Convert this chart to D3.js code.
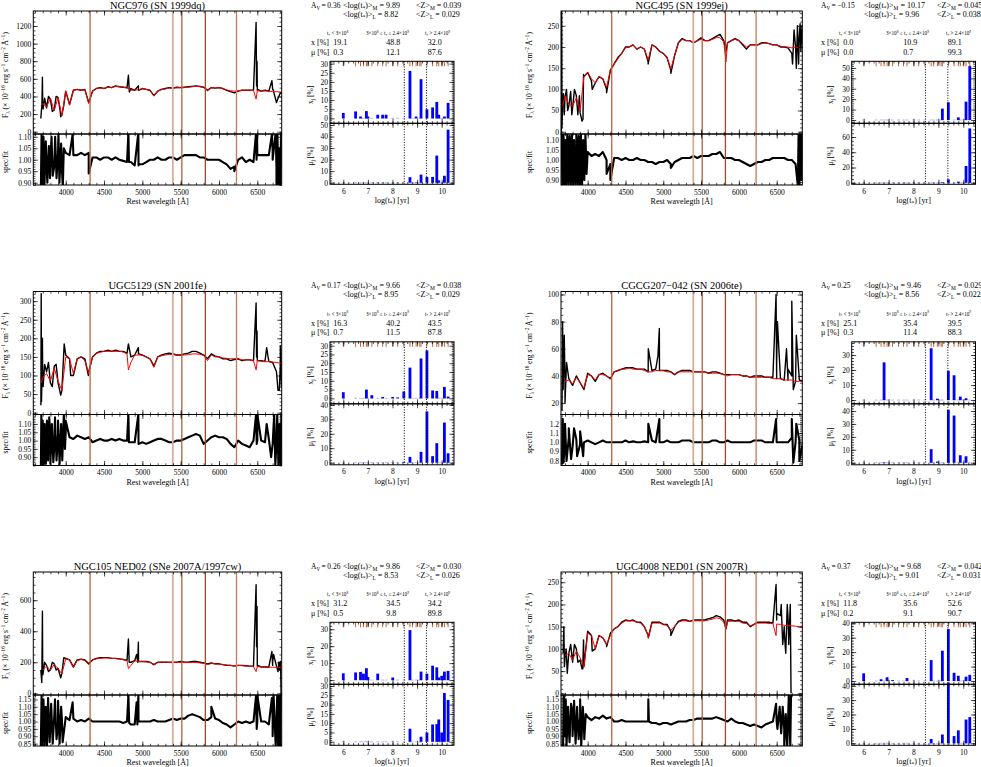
<!DOCTYPE html>
<html><head><meta charset="utf-8">
<script src="https://cdn.jsdelivr.net/npm/d3@7"></script>
<style>body{margin:0;background:#fff}svg{display:block}</style>
</head><body><svg id="c" width="981" height="767"></svg>
<script>
// ---------------- DATA ----------------
const waveGrid = [3650,3700,3750,3800,3850,3900,3950,4000,4050,4100,4150,4200,4250,4300,4350,4400,4450,4500,4550,4600,4650,4700,4750,4800,4850,4900,4950,5000,5050,5100,5150,5200,5250,5300,5350,5400,5450,5500,5550,5600,5650,5700,5750,5800,5850,5900,5950,6000,6050,6100,6150,6200,6250,6300,6350,6400,6450,6500,6550,6600,6650,6700,6750,6800,6850];
const skyLines = [4318,5397,5515,5822,6228];
const skyColors = ["#b8643e","#d6ae96","#b0603a","#9c4c2c","#c47c58"];
const ageLog = [6.00,6.50,6.70,6.82,6.94,7.00,7.16,7.40,7.60,7.74,8.01,8.21,8.46,8.71,8.81,8.96,9.11,9.16,9.40,9.63,9.80,9.88,10.00,10.11,10.26];
const ageCuts = [8.48,9.38];

const titles = ["NGC976 (SN 1999dq)","NGC495 (SN 1999ej)","UGC5129 (SN 2001fe)","CGCG207\u2212042 (SN 2006te)","NGC105 NED02 (SNe 2007A/1997cw)","UGC4008 NED01 (SN 2007R)"];
const avValues = [0.36,-0.15,0.17,0.25,0.26,0.37];
const logtM = [9.89,10.17,9.66,9.46,9.86,9.68];
const logtL = [8.82,9.96,8.95,8.56,8.53,9.01];
const zM = [0.039,0.045,0.038,0.029,0.030,0.042];
const zL = [0.029,0.038,0.029,0.022,0.026,0.031];
const xBins = [[19.1,48.8,32.0],[0.0,10.9,89.1],[16.3,40.2,43.5],[25.1,35.4,39.5],[31.2,34.5,34.2],[11.8,35.6,52.6]];
const muBins = [[0.3,12.1,87.6],[0.0,0.7,99.3],[0.7,11.5,87.8],[0.3,11.4,88.3],[0.5,9.8,89.8],[0.2,9.1,90.7]];

// NGC976
const obsNGC976 = [null,300,270,370,250,390,190,460,310,470,480,470,480,330,460,490,500,490,510,500,520,510,505,500,490,470,470,490,480,470,410,460,480,490,500,495,505,500,505,510,515,520,515,505,470,500,495,500,490,470,455,440,460,470,470,470,475,470,460,470,460,480,330,440,440];
const obsSpkNGC976 = [[3675,150],[3690,320],[3696,620],[3705,260],[3725,380],[3775,400],[3825,230],[3875,400],[3925,250],[3935,170],[3975,300],[4818,640],[4830,450],[4948,520],[6484,1240],[6490,520],[6496,800],[6505,480],[6690,580],[6705,480],[6770,380]];
const fitNGC976 = [null,320,280,380,240,390,180,460,300,470,480,470,475,320,460,490,495,490,505,500,515,510,505,495,470,475,475,490,480,470,405,460,480,485,495,495,500,500,500,505,510,515,510,505,465,500,495,500,490,475,465,460,465,470,470,470,470,465,460,465,460,455,455,450,445];
const fitSpkNGC976 = [[3680,300],[6484,370]];
const resNGC976 = [null,0.95,0.98,1.0,0.97,1.03,0.96,1.03,1.02,1.02,1.02,1.03,1.02,1.03,1.01,1.01,1.0,1.01,1.01,1.0,1.01,1.0,0.995,0.99,0.99,0.975,0.975,0.98,0.99,1.0,1.0,1.01,1.0,1.0,1.01,1.01,1.0,1.01,1.02,1.02,1.02,1.02,1.01,1.01,1.0,1.0,1.0,1.0,0.99,0.98,0.96,0.97,1.0,1.01,0.99,1.0,0.99,1.02,1.02,1.02,1.02,1.04,0.96,1.0,1.0];
const resSpkNGC976 = [[3675,0.85],[3685,1.12],[3692,0.86],[3710,1.1],[3722,0.88],[3740,1.08],[3760,0.9],[3780,1.06],[3795,0.92],[3815,1.1],[3830,0.93],[3862,1.1],[3880,0.92],[3905,1.12],[3918,0.9],[3940,1.07],[3962,0.88],[3975,1.05],[4090,1.11],[4300,0.94],[4818,1.12],[4825,0.99],[4948,1.12],[4955,0.98],[6200,0.95],[6484,1.12],[6490,1.0],[6496,1.12],[6690,1.11],[6700,1.0],[6740,1.12],[6750,0.88],[6762,1.12],[6775,0.88],[6790,1.05],[6800,0.88],[6812,1.12]];
const xjNGC976 = [3.0,3.8,1.0,0,4.0,1.0,0,2.0,2.0,2.0,0,0,0,26.0,0,1.0,0,21.5,5.0,6.0,9.0,2.0,0,1.0,8.5];
const mujNGC976 = [0,0,0,0,0,0,0,0,0,0,0,0,0,4.8,0,0.3,0,7.0,5.0,5.0,23.5,2.0,0,6.0,46.0];

// NGC495
const obsNGC495 = [null,80,60,55,85,45,130,140,120,115,130,125,100,145,160,175,185,200,200,205,195,200,195,165,205,200,190,185,175,145,180,210,220,215,215,210,215,222,215,215,220,225,230,215,210,215,220,215,205,195,205,205,205,210,210,208,205,205,200,200,198,185,200,225,200];
const obsSpkNGC495 = [[3652,-10],[3656,290],[3660,10],[3668,70],[3680,90],[3690,40],[3720,100],[3735,50],[3775,95],[3790,40],[3825,100],[3870,40],[3890,85],[3925,25],[3938,30],[3945,135],[4060,100],[4250,92],[4800,160],[5100,138],[5830,190],[6710,160],[6730,240],[6760,150],[6775,250],[6790,160],[6810,255],[6820,190],[6835,250]];
const fitNGC495 = [null,85,65,60,80,50,130,140,125,115,130,125,105,145,160,172,185,198,200,205,195,200,195,170,205,200,190,185,175,148,180,210,218,215,215,210,215,218,215,215,218,222,222,212,210,215,218,215,208,200,205,205,205,208,210,208,205,205,202,200,200,198,200,198,200];
const fitSpkNGC495 = [[3670,60],[5830,165]];
const resNGC495 = [null,1.0,0.98,1.02,0.97,1.05,1.02,1.04,1.02,1.03,1.02,1.04,1.0,0.98,1.01,1.01,1.0,1.01,1.0,1.0,1.01,1.0,1.0,0.99,0.99,0.98,0.99,0.99,1.0,0.98,0.99,1.0,1.01,1.01,1.01,1.02,1.01,1.02,1.02,1.02,1.03,1.03,1.04,1.01,1.01,1.01,1.0,1.0,0.99,0.98,0.97,0.98,0.99,0.99,1.0,1.0,1.01,1.01,1.01,1.01,1.0,1.0,0.98,1.02,1.0];
const resSpkNGC495 = [[3656,1.13],[3665,0.87],[3680,1.13],[3690,0.87],[3705,1.1],[3715,0.87],[3730,1.13],[3745,0.88],[3760,1.12],[3775,0.87],[3790,1.13],[3805,0.87],[3820,1.1],[3835,0.88],[3850,1.13],[3865,0.87],[3880,1.12],[3895,0.87],[3910,1.13],[3925,0.87],[3940,1.1],[3955,0.9],[3970,1.13],[3985,0.93],[4250,0.93],[4300,0.9],[5100,0.96],[6780,0.87],[6790,1.13],[6800,0.87],[6815,1.13],[6825,0.9],[6835,1.13]];
const xjNGC495 = [0,0,0,0,0,0,0,0,0,0,0,0,0,0,0,0,0,10.9,17.0,0,2.5,0,0,17.6,52.0];
const mujNGC495 = [0,0,0,0,0,0,0,0,0,0,0,0,0,0,0,0,0,0.7,4.5,0,1.5,0,0,22.0,71.3];

// UGC5129
const obsUGC5129 = [null,90,110,80,125,80,60,155,145,100,145,150,145,110,150,160,165,165,168,165,168,165,165,160,150,155,158,155,150,145,125,150,155,158,160,158,155,155,158,160,165,165,160,155,145,158,152,150,145,145,140,143,145,140,142,142,140,140,140,138,138,135,110,130,130];
const obsSpkUGC5129 = [[3676,20],[3680,320],[3684,30],[3690,100],[3696,200],[3705,70],[3725,130],[3775,135],[3825,70],[3875,130],[3935,47],[3980,185],[4065,100],[4296,100],[4818,185],[4948,175],[6484,295],[6490,150],[6496,220],[6622,175],[6640,150],[6770,60],[6787,60],[6800,180],[6815,70],[6830,170]];
const fitUGC5129 = [null,95,105,85,120,85,60,150,145,105,145,150,140,105,150,160,162,165,165,165,165,165,163,158,135,155,155,155,150,145,122,150,153,155,157,156,155,155,155,156,158,158,157,154,140,155,150,150,147,146,145,145,145,142,142,142,140,140,138,137,137,136,135,133,132];
const fitSpkUGC5129 = [[3680,80],[4818,115],[6484,115]];
const resUGC5129 = [null,1.0,0.96,1.02,0.95,1.04,0.97,1.05,1.02,1.01,1.03,1.02,1.01,1.02,0.99,1.0,1.01,1.0,1.0,1.01,1.0,1.01,1.0,1.0,0.99,0.99,0.98,0.99,0.98,0.99,1.0,1.01,1.01,1.0,0.99,0.99,1.0,1.0,1.01,1.02,1.03,1.04,1.03,0.98,1.0,1.02,1.03,1.02,1.02,1.01,0.98,0.96,1.0,0.98,0.97,0.96,1.0,1.0,1.0,0.99,1.01,0.98,1.0,0.95,1.0];
const resSpkUGC5129 = [[3676,0.85],[3682,1.16],[3690,0.85],[3700,1.12],[3712,0.85],[3725,1.1],[3740,0.86],[3755,1.12],[3770,0.88],[3785,1.14],[3800,0.86],[3820,1.1],[3838,0.87],[3860,1.14],[3880,0.88],[3900,1.12],[3920,0.86],[3940,1.1],[3955,0.88],[3975,1.16],[3990,0.95],[4000,1.12],[4818,1.16],[4825,0.99],[4948,1.16],[4955,0.98],[6484,1.16],[6492,0.98],[6500,1.16],[6622,1.1],[6680,0.9],[6720,1.16],[6735,0.85],[6760,1.16],[6775,0.85],[6790,1.1],[6805,0.85],[6815,1.16]];
const xjUGC5129 = [3.5,0,0,0,5.0,0,1.8,0,0.8,0,0.8,0.5,3.9,17.5,0,0,0,22.7,27.3,4.5,4.2,0,0,6.5,1.0];
const mujUGC5129 = [0,0,0,0,0,0,0,0,0,0,0,0,0.5,4.0,0,0,0,7.5,35.5,4.5,13.5,0,0,27.8,6.5];

// CGCG207-042
const obsCGCG207 = [null,35,38,33,40,35,30,42,40,36,41,42,40,38,43,44,45,46,46,46,45,45,45,43,44,45,44,44,44,43,41,43,44,44,44,43,43,43,43,42,43,43,42,41,41,41,41,41,40,40,39,40,40,40,39,39,39,38,38,37,37,40,36,37,36];
const obsSpkCGCG207 = [[3660,15],[3668,80],[3675,30],[3690,70],[3700,20],[3720,50],[4802,60],[4930,55],[4948,75],[6492,100],[6500,50],[6510,80],[6630,60],[6650,45],[6700,95],[6720,30],[6760,70]];
const fitCGCG207 = [null,36,37,34,39,35,31,41,40,37,41,41,40,38,43,44,45,45,46,45,45,45,44,43,43,44,44,44,43,43,41,43,43,43,43,43,43,43,43,42,42,42,42,41,40,41,41,41,40,40,39,39,39,39,39,39,38,38,38,37,37,37,36,36,36];
const fitSpkCGCG207 = [];
const resCGCG207 = [null,1.0,1.05,0.95,1.03,0.98,1.0,1.02,1.0,0.98,1.0,1.02,1.0,1.0,1.0,1.0,1.0,1.02,1.0,1.01,1.0,1.0,1.01,1.0,1.02,1.0,1.0,1.0,1.02,1.0,1.0,1.0,1.02,1.02,1.02,1.0,1.0,1.0,1.0,1.0,1.02,1.02,1.0,1.0,1.02,1.0,1.0,1.0,1.0,1.0,1.0,1.02,1.02,1.02,1.0,1.0,1.0,1.0,1.0,1.0,1.0,1.05,1.0,1.02,1.0];
const resSpkCGCG207 = [[3660,0.76],[3670,1.25],[3680,0.78],[3700,1.2],[3720,0.8],[3750,1.15],[3780,0.82],[3820,1.15],[3860,0.85],[3900,1.12],[3940,0.85],[4802,1.2],[4948,1.25],[6492,1.25],[6700,1.25],[6720,0.78],[6760,1.2],[6800,0.8]];
const xjCGCG207 = [0,0,0,25.1,0,0,0,0,0,0,0,0,0,34.5,0,0.9,0,0,19.5,16.5,0,2.3,0,1.2,0];
const mujCGCG207 = [0,0,0,0.3,0,0,0,0,0,0,0,0,0,10.5,0,0.9,0,0,41.0,36.5,0,5.8,0,5.0,0];

// NGC105
const obsNGC105 = [null,140,180,150,190,160,130,225,215,170,215,220,215,190,215,225,230,230,230,225,225,222,218,212,200,210,205,205,205,200,185,200,200,200,200,200,200,205,200,200,205,205,200,195,190,195,190,190,185,180,180,175,180,180,178,175,175,175,170,170,170,180,175,160,null];
const obsSpkNGC105 = [[3675,150],[3688,70],[3696,530],[3702,120],[3725,200],[3775,140],[3825,200],[3875,150],[3935,100],[3975,230],[4818,350],[4828,200],[4925,250],[4940,200],[4948,330],[4958,205],[6484,700],[6490,300],[6496,560],[6505,180],[6690,270],[6700,200],[6712,250],[6770,140],[6780,200],[6790,150],[6800,205],[6805,140],[6810,0]];
const fitNGC105 = [null,150,175,150,185,160,125,222,215,165,212,218,212,185,215,222,225,228,228,225,224,220,218,210,180,210,205,205,203,200,182,198,200,200,198,198,198,200,198,198,198,198,196,194,185,192,190,188,185,182,180,178,180,178,176,175,173,172,170,170,168,168,167,166,165];
const fitSpkNGC105 = [[4818,160],[6484,140]];
const resNGC105 = [null,0.98,1.02,0.97,1.03,0.98,1.02,1.03,1.01,1.02,1.0,1.01,1.0,1.02,1.0,1.0,1.0,1.0,1.0,1.0,1.0,1.0,0.99,1.0,0.98,0.98,1.0,1.0,1.0,1.0,1.01,1.0,1.0,1.0,1.01,1.02,1.01,1.02,1.02,1.04,1.05,1.04,1.03,1.01,1.01,1.03,1.02,1.01,0.99,0.98,0.96,0.98,1.0,0.99,1.0,0.99,1.0,1.0,1.0,1.0,0.98,1.02,1.0,1.0,null];
const resSpkNGC105 = [[3675,0.83],[3685,1.18],[3695,0.83],[3710,1.15],[3725,0.84],[3740,1.1],[3755,0.83],[3770,1.16],[3790,0.86],[3810,1.12],[3830,0.85],[3860,1.15],[3880,0.88],[3900,1.14],[3920,0.85],[3940,1.1],[3960,0.86],[4090,1.13],[4818,1.18],[4828,0.99],[4925,1.13],[4935,0.98],[4948,1.18],[4958,1.0],[5900,1.1],[6484,1.18],[6492,0.95],[6500,1.18],[6690,1.16],[6700,0.9],[6712,1.18],[6740,0.83],[6760,1.18],[6772,0.83],[6785,1.18],[6795,0.83],[6805,1.18]];
const xjNGC105 = [4.0,4.5,4.8,3.8,7.0,1.8,0,3.8,0,0,1.5,0,0,29.5,0,0,0,5.0,3.8,8.5,7.5,1.5,2.5,5.0,5.4];
const mujNGC105 = [0,0,0,0,0,0,0,0,0,0,0,0,0,7.0,0,0,0,2.7,5.0,9.3,9.5,12.0,5.0,26.2,22.5];

// UGC4008
const obsUGC4008 = [null,80,90,70,100,75,60,140,130,100,130,125,110,135,145,150,160,165,163,165,160,160,150,130,160,160,160,155,155,140,150,162,165,165,162,165,165,165,165,168,170,175,172,165,165,165,163,165,160,160,150,155,160,160,160,160,158,165,175,150,170,null,null,null,null];
const obsSpkUGC4008 = [[3675,90],[3685,150],[3692,60],[3715,100],[3730,45],[3775,110],[3825,110],[3870,70],[3925,55],[3935,55],[3945,120],[4060,95],[4250,105],[4802,125],[5100,130],[5830,145],[6492,245],[6500,180],[6560,200],[6580,110],[6600,140],[6620,90],[6640,200],[6660,110],[6680,200],[6690,0]];
const fitUGC4008 = [null,85,90,75,95,80,60,135,130,100,130,125,110,130,145,150,158,163,163,163,160,158,150,130,158,158,158,155,153,142,150,160,163,163,162,163,163,163,163,165,167,170,168,160,162,162,162,162,158,157,152,155,158,158,158,157,157,156,155,153,152,152,151,150,150];
const fitSpkUGC4008 = [[4802,125],[5830,145],[6492,130]];
const resUGC4008 = [null,1.0,0.95,1.05,0.97,1.03,0.98,1.03,1.01,1.03,1.02,1.04,1.02,1.03,1.0,1.0,1.01,1.0,1.0,1.0,1.0,1.0,1.0,1.0,0.99,0.99,0.98,0.99,0.99,0.98,0.99,1.0,1.0,1.0,1.01,1.01,1.02,1.02,1.02,1.02,1.02,1.03,1.02,1.01,1.0,1.02,1.0,0.99,0.99,0.98,0.97,0.98,0.97,0.96,0.98,0.99,1.0,1.0,1.0,0.95,1.0,null,null,null,null];
const resSpkUGC4008 = [[3675,0.83],[3685,1.18],[3695,0.9],[3710,1.15],[3720,0.83],[3740,1.1],[3760,0.86],[3780,1.12],[3800,0.9],[3820,1.14],[3840,0.85],[3860,1.1],[3880,0.88],[3900,1.15],[3915,0.83],[3935,1.1],[3955,0.88],[3975,1.05],[4802,1.15],[4810,1.0],[6492,1.12],[6510,0.95],[6540,1.1],[6560,0.92],[6580,1.1],[6600,0.83],[6620,1.05],[6640,0.83],[6660,1.18],[6680,0.83],[6690,1.18]];
const xjUGC4008 = [5.3,0,1.2,0,2.6,0,0.6,0,0,2.1,0,0,0,14.5,0,0,0,21.0,36.0,5.7,3.6,0,0,3.0,4.3];
const mujUGC4008 = [0,0,0,0,0,0,0,0,0,0,0,0,0,3.0,0,0,0,6.1,42.0,5.0,9.0,0,0,16.5,18.2];

// ---------------- LAYOUT ----------------
const FONT = "'Liberation Serif','Times New Roman',serif";
const rowOff = [0, 280.5, 561];
const cols = [
  {spec:[33.3,281.7], wdom:[3577,6818], bar:[330,454], adom:[5.46,10.5], ylab:8, barYlab:313,
   t:{av:311, lg:343, z:416, c:[333.3,386.3,427.7], h:[327,366,425]}},
  {spec:[561,802.3], wdom:[3647,6839], bar:[851.7,975.5], adom:[5.52,10.49], ylab:532, barYlab:833,
   t:{av:821, lg:864, z:937, c:[843.3,903.3,947.7], h:[839,886,946]}}
];
const SP = {top:11, mid:134, bot:185};
const BP = {top:61.3, mid:123.3, bot:184.3};

const galaxies = [
  {obs:obsNGC976, obsS:obsSpkNGC976, fit:fitNGC976, fitS:fitSpkNGC976, res:resNGC976, resS:resSpkNGC976, xj:xjNGC976, mu:mujNGC976,
   fd:[-26,1370], ft:[0,200,400,600,800,1000,1200], fm:50, rd:[0.89,1.112], rt:[0.90,0.95,1.00,1.05,1.10], rm:0.01,
   xd:[-2.7,31.3], xt:[0,5,10,15,20,25,30], xm:1, md:[-1.4,51.5], mt:[0,10,20,30,40,50], mm:2},
  {obs:obsNGC495, obsS:obsSpkNGC495, fit:fitNGC495, fitS:fitSpkNGC495, res:resNGC495, resS:resSpkNGC495, xj:xjNGC495, mu:mujNGC495,
   fd:[-5.4,285], ft:[0,50,100,150,200,250], fm:10, rd:[0.875,1.13], rt:[0.90,0.95,1.00,1.05,1.10], rm:0.01,
   xd:[-3.2,56.4], xt:[0,10,20,30,40,50], xm:2, md:[-2,78], mt:[0,20,40,60], mm:5},
  {obs:obsUGC5129, obsS:obsSpkUGC5129, fit:fitUGC5129, fitS:fitSpkUGC5129, res:resUGC5129, resS:resSpkUGC5129, xj:xjUGC5129, mu:mujUGC5129,
   fd:[-5,326], ft:[0,50,100,150,200,250,300], fm:10, rd:[0.85,1.157], rt:[0.90,0.95,1.00,1.05,1.10], rm:0.01,
   xd:[-3.1,32.2], xt:[0,5,10,15,20,25,30], xm:1, md:[-1.5,40.8], mt:[0,10,20,30,40], mm:2},
  {obs:obsCGCG207, obsS:obsSpkCGCG207, fit:fitCGCG207, fitS:fitSpkCGCG207, res:resCGCG207, resS:resSpkCGCG207, xj:xjCGCG207, mu:mujCGCG207,
   fd:[11.6,102.2], ft:[20,40,60,80,100], fm:5, rd:[0.75,1.30], rt:[0.8,0.9,1.0,1.1,1.2], rm:0.02,
   xd:[-2.5,38.8], xt:[0,10,20,30], xm:2, md:[-1.6,45.6], mt:[0,10,20,30,40], mm:2},
  {obs:obsNGC105, obsS:obsSpkNGC105, fit:fitNGC105, fitS:fitSpkNGC105, res:resNGC105, resS:resSpkNGC105, xj:xjNGC105, mu:mujNGC105,
   fd:[-11,782], ft:[0,200,400,600], fm:50, rd:[0.834,1.18], rt:[0.85,0.90,0.95,1.00,1.05,1.10,1.15], rm:0.01,
   xd:[-2.5,34.1], xt:[0,10,20,30], xm:2, md:[-1.9,30.9], mt:[0,5,10,15,20,25,30], mm:1},
  {obs:obsUGC4008, obsS:obsSpkUGC4008, fit:fitUGC4008, fitS:fitSpkUGC4008, res:resUGC4008, resS:resSpkUGC4008, xj:xjUGC4008, mu:mujUGC4008,
   fd:[-3.8,273], ft:[0,50,100,150,200,250], fm:10, rd:[0.834,1.18], rt:[0.85,0.90,0.95,1.00,1.05,1.10,1.15], rm:0.01,
   xd:[-2.3,40.7], xt:[0,10,20,30,40], xm:2, md:[-1.4,41], mt:[0,10,20,30,40], mm:2}
];

// ---------------- HELPERS ----------------
const svg = d3.select("#c");
const defs = svg.append("defs");

function minors(dom, step) {
  const lo = Math.min(dom[0], dom[1]), hi = Math.max(dom[0], dom[1]);
  const out = [];
  for (let k = Math.ceil(lo / step - 1e-9); k * step <= hi + 1e-9; k++) out.push(+(k * step).toFixed(6));
  return out;
}

function rich(g, x, y, parts, size, opt) {
  opt = opt || {};
  const t = g.append("text").attr("x", x).attr("y", y).attr("font-size", size)
    .attr("font-family", FONT).attr("fill", "#000");
  if (opt.anchor) t.attr("text-anchor", opt.anchor);
  if (opt.rotate) t.attr("transform", `rotate(-90,${x},${y})`);
  let cur = 0;
  parts.forEach(p => {
    const s = Array.isArray(p) ? p[0] : p, kind = Array.isArray(p) ? p[1] : null;
    const target = kind === "sub" ? size * 0.3 : kind === "sup" ? -size * 0.4 : 0;
    const ts = t.append("tspan").text(s).attr("dy", (target - cur).toFixed(2));
    if (kind) ts.attr("font-size", size * 0.68);
    cur = target;
  });
  return t;
}

function frameAxes(g, x, y, o) {
  const [xa, xb] = x.range(); const [yb, ya] = y.range();
  const style = sel => {
    sel.select(".domain").remove();
    sel.selectAll("line").attr("stroke", "#000").attr("stroke-width", 0.7);
    sel.selectAll("text").attr("font-family", FONT).attr("font-size", 7.5).attr("fill", "#000");
  };
  const add = (axis, tx, ty) => g.append("g").attr("transform", `translate(${tx},${ty})`).call(axis).call(style);
  const none = () => "";
  add(d3.axisBottom(x).tickValues(o.xMaj).tickSize(-4.5).tickPadding(4.2).tickFormat(o.xFmt || none), 0, yb);
  add(d3.axisBottom(x).tickValues(o.xMin).tickSize(-2.2).tickFormat(none), 0, yb);
  add(d3.axisTop(x).tickValues(o.xMaj).tickSize(-4.5).tickFormat(none), 0, ya);
  add(d3.axisTop(x).tickValues(o.xMin).tickSize(-2.2).tickFormat(none), 0, ya);
  add(d3.axisLeft(y).tickValues(o.yMaj).tickSize(-4.5).tickPadding(2).tickFormat(o.yFmt), xa, 0);
  add(d3.axisLeft(y).tickValues(o.yMin).tickSize(-2.2).tickFormat(none), xa, 0);
  add(d3.axisRight(y).tickValues(o.yMaj).tickSize(-4.5).tickFormat(none), xb, 0);
  add(d3.axisRight(y).tickValues(o.yMin).tickSize(-2.2).tickFormat(none), xb, 0);
  g.append("rect").attr("x", xa).attr("y", ya).attr("width", xb - xa).attr("height", yb - ya)
    .attr("fill", "none").attr("stroke", "#000").attr("stroke-width", 1);
}

function merged(vals, spikes) {
  const pts = waveGrid.map((w, i) => ({w, v: vals[i]}));
  (spikes || []).forEach(s => pts.push({w: s[0], v: s[1]}));
  pts.sort((a, b) => a.w - b.w);
  return pts;
}

let clipN = 0;
function clipRect(x0, y0, x1, y1) {
  const id = "cp" + (clipN++);
  defs.append("clipPath").attr("id", id).append("rect")
    .attr("x", x0).attr("y", y0).attr("width", x1 - x0).attr("height", y1 - y0);
  return `url(#${id})`;
}

// ---------------- DRAW ----------------
galaxies.forEach((G, gi) => {
  const col = cols[gi % 2], oy = rowOff[Math.floor(gi / 2)];
  const g = svg.append("g");

  // ---- spectrum panel ----
  const xw = d3.scaleLinear().domain(col.wdom).range(col.spec);
  const yf = d3.scaleLinear().domain(G.fd).range([oy + SP.mid, oy + SP.top]);
  const yr = d3.scaleLinear().domain(G.rd).range([oy + SP.bot, oy + SP.mid]);

  const cf = clipRect(col.spec[0], oy + SP.top, col.spec[1], oy + SP.mid);
  const cr = clipRect(col.spec[0], oy + SP.mid, col.spec[1], oy + SP.bot);

  const lineF = d3.line().defined(d => d.v != null).x(d => xw(d.w)).y(d => yf(d.v));
  const lineR = d3.line().defined(d => d.v != null).x(d => xw(d.w)).y(d => yr(d.v));

  g.append("path").attr("clip-path", cf).attr("d", lineF(merged(G.obs, G.obsS)))
    .attr("fill", "none").attr("stroke", "#000").attr("stroke-width", 1.4).attr("stroke-linejoin", "round");
  g.append("path").attr("clip-path", cf).attr("d", lineF(merged(G.fit, G.fitS)))
    .attr("fill", "none").attr("stroke", "#ff0000").attr("stroke-width", 1.0).attr("stroke-linejoin", "round");
  g.append("path").attr("clip-path", cr).attr("d", lineR(merged(G.res, G.resS)))
    .attr("fill", "none").attr("stroke", "#000").attr("stroke-width", 2.1).attr("stroke-linejoin", "round");

  skyLines.forEach((w, k) => {
    g.append("line").attr("x1", xw(w)).attr("x2", xw(w)).attr("y1", oy + SP.top).attr("y2", oy + SP.bot)
      .attr("stroke", skyColors[k]).attr("stroke-width", k === 1 ? 1.8 : 1.3);
  });

  frameAxes(g, xw, yf, {xMaj:[4000,4500,5000,5500,6000,6500], xMin:minors(col.wdom,100),
    yMaj:G.ft, yMin:minors(G.fd, G.fm), yFmt:d3.format("d")});
  frameAxes(g, xw, yr, {xMaj:[4000,4500,5000,5500,6000,6500], xMin:minors(col.wdom,100), xFmt:d3.format("d"),
    yMaj:G.rt, yMin:minors(G.rd, G.rm), yFmt:d => d.toFixed(G.rt[1]-G.rt[0] < 0.09 ? 2 : 1)});

  const cx = (col.spec[0] + col.spec[1]) / 2;
  g.append("text").attr("x", cx).attr("y", oy + 8.8).attr("text-anchor", "middle")
    .attr("font-family", FONT).attr("font-size", 10.5).text(titles[gi]);
  rich(g, col.ylab, oy + (SP.top + SP.mid) / 2 + 2.5,
    [["F"],["\u03bb","sub"],[" (\u00d7 10"],["\u221216","sup"],[" erg s"],["\u22121","sup"],[" cm"],["\u22122","sup"],[" \u00c5"],["\u22121","sup"],[")"]],
    7.5, {anchor:"middle", rotate:true});
  rich(g, col.ylab, oy + (SP.mid + SP.bot) / 2 + 2.5, [["spec/fit"]], 7.5, {anchor:"middle", rotate:true});
  g.append("text").attr("x", cx).attr("y", oy + 204).attr("text-anchor", "middle")
    .attr("font-family", FONT).attr("font-size", 8).text("Rest wavelegth [\u00c5]");

  // ---- population bars ----
  const xa = d3.scaleLinear().domain(col.adom).range(col.bar);
  const yx = d3.scaleLinear().domain(G.xd).range([oy + BP.mid, oy + BP.top]);
  const ym = d3.scaleLinear().domain(G.md).range([oy + BP.bot, oy + BP.mid]);
  const bw = 2.8;

  [[yx, G.xj], [ym, G.mu]].forEach(([ys, vals]) => {
    g.append("g").selectAll("rect").data(ageLog).join("rect")
      .attr("x", d => xa(d) - bw / 2).attr("y", ys(0) - 0.6).attr("width", bw).attr("height", 1.2)
      .attr("fill", "#c4c4f4");
    g.append("g").selectAll("rect").data(ageLog.map((a, i) => ({a, v: vals[i]})).filter(d => d.v > 0)).join("rect")
      .attr("x", d => xa(d.a) - bw / 2).attr("y", d => ys(d.v)).attr("width", bw)
      .attr("height", d => Math.max(0, ys(0) - ys(d.v))).attr("fill", "#0000ff");
  });

  g.append("g").selectAll("line").data(ageLog).join("line")
    .attr("x1", d => xa(d)).attr("x2", d => xa(d)).attr("y1", oy + BP.top).attr("y2", oy + BP.top + 5)
    .attr("stroke", "#c0663a").attr("stroke-width", 1);

  ageCuts.forEach(a => {
    g.append("line").attr("x1", xa(a)).attr("x2", xa(a)).attr("y1", oy + BP.top).attr("y2", oy + BP.bot)
      .attr("stroke", "#000").attr("stroke-width", 1).attr("stroke-dasharray", "1,1.6");
  });

  frameAxes(g, xa, yx, {xMaj:[6,7,8,9,10], xMin:minors(col.adom,0.2), yMaj:G.xt, yMin:minors(G.xd,G.xm), yFmt:d3.format("d")});
  frameAxes(g, xa, ym, {xMaj:[6,7,8,9,10], xMin:minors(col.adom,0.2), xFmt:d3.format("d"), yMaj:G.mt, yMin:minors(G.md,G.mm), yFmt:d3.format("d")});

  rich(g, col.barYlab, oy + (BP.top + BP.mid) / 2 + 2.5, [["x"],["j","sub"],[" [%]"]], 7.5, {anchor:"middle", rotate:true});
  rich(g, col.barYlab, oy + (BP.mid + BP.bot) / 2 + 2.5, [["\u03bc"],["j","sub"],[" [%]"]], 7.5, {anchor:"middle", rotate:true});
  rich(g, (col.bar[0] + col.bar[1]) / 2, oy + 203, [["log(t"],["*","sub"],[") [yr]"]], 8, {anchor:"middle"});

  // ---- statistics text ----
  const T = col.t, fs = 8;
  const avTxt = (avValues[gi] < 0 ? "\u2212" : "") + Math.abs(avValues[gi]).toFixed(2);
  rich(g, T.av, oy + 7.5, [["A"],["V","sub"],["\u2009=\u2009" + avTxt]], 7.5);
  rich(g, T.lg, oy + 7.5, [["<log(t"],["*","sub"],[")>"],["M","sub"],[" = " + logtM[gi].toFixed(2)]], fs);
  rich(g, T.lg, oy + 16.5, [["<log(t"],["*","sub"],[")>"],["L","sub"],[" = " + logtL[gi].toFixed(2)]], fs);
  rich(g, T.z, oy + 7.5, [["<Z>"],["M","sub"],[" = " + zM[gi].toFixed(3)]], fs);
  rich(g, T.z, oy + 16.5, [["<Z>"],["L","sub"],[" = " + zL[gi].toFixed(3)]], fs);

  const hs = 5.2;
  rich(g, T.h[0], oy + 35, [["t"],["*","sub"],[" < 3\u00d710"],["8","sup"]], hs);
  rich(g, T.h[1], oy + 35, [["3\u00d710"],["8","sup"],[" \u2264 t"],["*","sub"],[" \u2264 2.4\u00d710"],["9","sup"]], hs);
  rich(g, T.h[2], oy + 35, [["t"],["*","sub"],[" > 2.4\u00d710"],["9","sup"]], hs);

  rich(g, T.av, oy + 45, [["x [%]"]], fs);
  rich(g, T.av, oy + 54.5, [["\u03bc [%]"]], fs);
  xBins[gi].forEach((v, k) => rich(g, T.c[k], oy + 45, [[v.toFixed(1)]], fs));
  muBins[gi].forEach((v, k) => rich(g, T.c[k], oy + 54.5, [[v.toFixed(1)]], fs));
});
</script></body></html>
